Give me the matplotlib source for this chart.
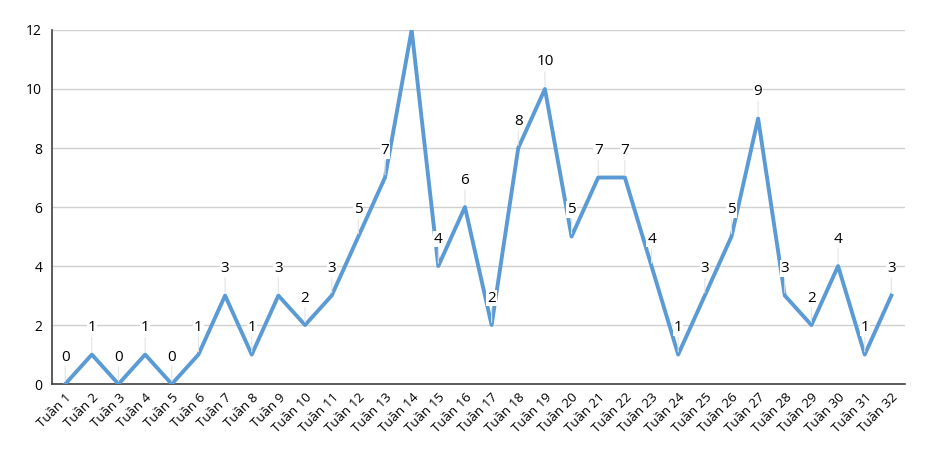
import matplotlib.pyplot as plt

weeks = ["Tuần %d" % i for i in range(1, 33)]
cases = [0, 1, 0, 1, 0, 1, 3, 1, 3, 2, 3, 5, 7, 12, 4, 6,
         2, 8, 10, 5, 7, 7, 4, 1, 3, 5, 9, 3, 2, 4, 1, 3]
y_ticks = [0, 2, 4, 6, 8, 10, 12]

plt.rcParams["font.family"] = ["Open Sans", "DejaVu Sans"]

fig = plt.figure(figsize=(9.26, 4.54), dpi=100)
ax = fig.add_axes([0.056, 0.154, 0.921, 0.780])

x = list(range(len(weeks)))
ax.plot(x, cases, color="#5B9BD5", linewidth=2.8, zorder=3)

ymax = y_ticks[-1]
# data labels with faint leader lines (label above the top of the axes is hidden)
for xi, v in zip(x, cases):
    if v >= ymax:
        continue
    ax.annotate(
        str(v),
        xy=(xi, v),
        xytext=(0, 27),
        textcoords="offset pixels",
        ha="center",
        va="center",
        fontsize=11,
        color="black",
        zorder=4,
        bbox=dict(boxstyle="square,pad=0.05", fc="white", ec="none"),
        arrowprops=dict(arrowstyle="-", color="#e3e3e3", lw=0.8,
                        shrinkA=1, shrinkB=2),
    )

ax.set_xlim(-0.5, len(weeks) - 0.5)
ax.set_ylim(0, ymax)
ax.set_yticks(y_ticks)
ax.set_xticks(x)
ax.set_xticklabels(weeks, rotation=45, ha="right", rotation_mode="anchor", fontsize=9.5)
ax.tick_params(axis="both", length=0)
ax.tick_params(axis="x", pad=5, labelsize=9.5)
ax.tick_params(axis="y", pad=7, labelsize=10)

ax.grid(axis="y", color="#d0d0d0", linewidth=1)
ax.set_axisbelow(True)
for side in ["top", "right"]:
    ax.spines[side].set_visible(False)
ax.spines["left"].set_color("#404040")
ax.spines["bottom"].set_color("#404040")
ax.spines["left"].set_linewidth(1.2)
ax.spines["bottom"].set_linewidth(1.2)

fig.savefig("out.png", dpi=100)
